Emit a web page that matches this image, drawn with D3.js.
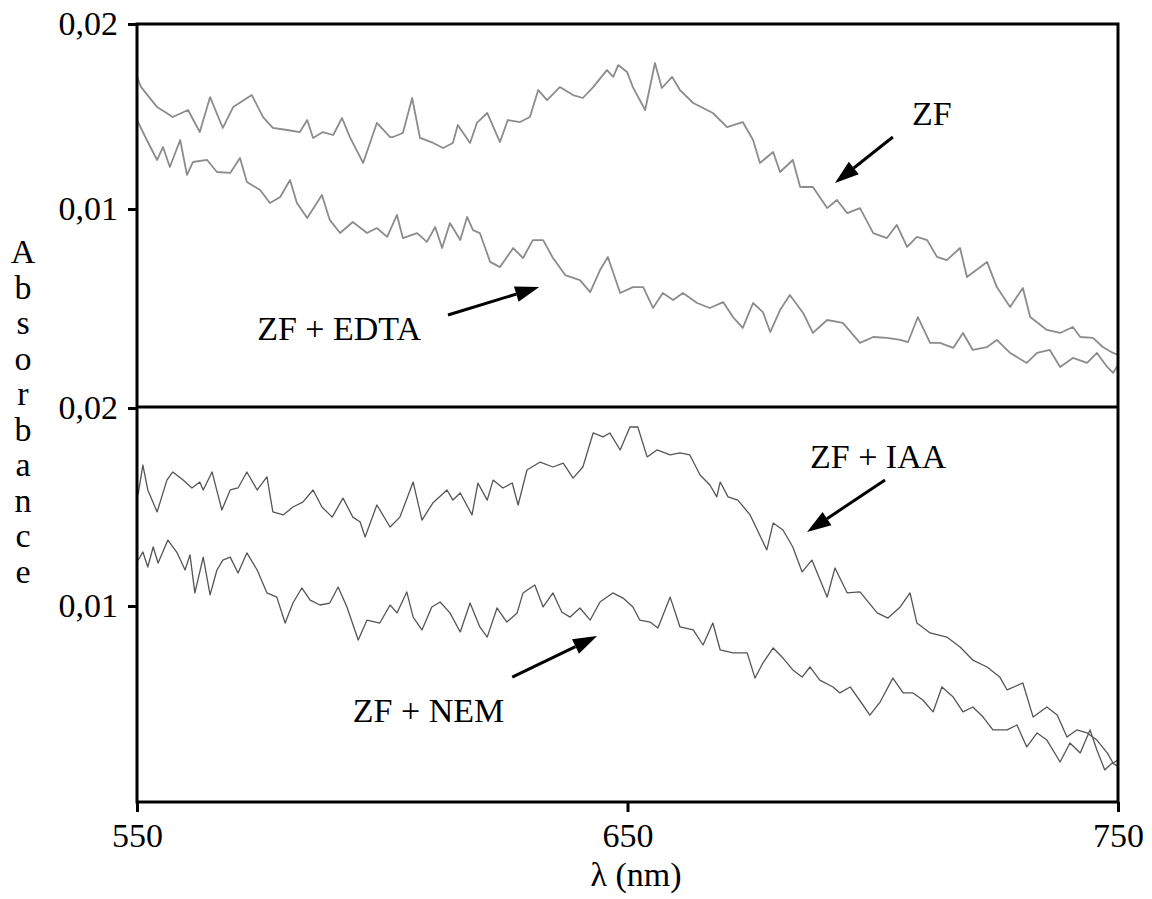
<!DOCTYPE html>
<html>
<head>
<meta charset="utf-8">
<script src="https://cdn.jsdelivr.net/npm/d3@7"></script>
<style>
  body { margin: 0; background: #fff; }
  svg text { font-family: "Liberation Serif", LiberationSerif, Tinos, "Times New Roman", Times, "Nimbus Roman", "DejaVu Serif", serif !important; }
</style>
</head>
<body>
<div id="chart"></div>
<script>
// wavelength ticks (nm) and absorbance ticks
const nmTicks = [550, 650, 750]
const absTicks = [0.01, 0.02]
const yTitle = 'Absorbance'
const xTitle = 'λ (nm)'

// top panel: [nm, absorbance]
const zf = [
  [550, 0.01714], [550.8, 0.01660], [554.1, 0.01551], [557.3, 0.01497], [560.4, 0.01535], [562.8, 0.01416],
  [564.9, 0.01605], [567.5, 0.01438], [569.6, 0.01551], [573.4, 0.01616], [575.7, 0.01497], [577.7, 0.01438],
  [580.6, 0.01427], [583.2, 0.01416], [584.7, 0.01481], [585.9, 0.01384], [587.9, 0.01416], [590.0, 0.01400],
  [591.8, 0.01492], [593.4, 0.01389], [596.1, 0.01249], [598.9, 0.01465], [601.6, 0.01389], [602.2, 0.01389],
  [604.2, 0.01411], [606.1, 0.01600], [607.7, 0.01384], [610.4, 0.01357], [612.4, 0.01330], [614.4, 0.01357],
  [615.4, 0.01454], [617.9, 0.01357], [619.3, 0.01465], [621.4, 0.01519], [624.0, 0.01362], [625.6, 0.01481],
  [628.1, 0.01470], [630.1, 0.01497], [631.8, 0.01643], [633.6, 0.01589], [636.2, 0.01659], [638.9, 0.01616],
  [640.9, 0.01600], [643.0, 0.01659], [645.8, 0.01751], [647.1, 0.01714], [648.1, 0.01778], [649.9, 0.01741],
  [651.1, 0.01659], [653.6, 0.01535], [655.6, 0.01789], [657.0, 0.01654], [659.1, 0.01714], [660.7, 0.01643],
  [663.4, 0.01573], [667.4, 0.01519], [670.3, 0.01443], [673.5, 0.01470], [675.6, 0.01373], [677.0, 0.01249],
  [679.7, 0.01308], [681.1, 0.01200], [683.7, 0.01265], [685.2, 0.01119], [687.8, 0.01119], [690.7, 0.01005],
  [692.7, 0.01049], [694.8, 0.00978], [697.4, 0.01005], [700.1, 0.00870], [702.9, 0.00843], [704.9, 0.00914],
  [707.0, 0.00795], [709.0, 0.00849], [711.1, 0.00832], [713.1, 0.00741], [715.1, 0.00724], [717.8, 0.00789],
  [719.2, 0.00632], [723.3, 0.00714], [725.3, 0.00578], [728.0, 0.00470], [730.6, 0.00573], [732.1, 0.00416],
  [735.5, 0.00346], [738.2, 0.00330], [740.8, 0.00362], [742.3, 0.00308], [744.9, 0.00303], [746.9, 0.00254],
  [749.0, 0.00222], [750, 0.00211]
]

const zfEdta = [
  [550, 0.01481], [552.0, 0.01373], [554.1, 0.01265], [555.3, 0.01335], [556.7, 0.01227], [558.8, 0.01373],
  [560.2, 0.01184], [561.4, 0.01254], [564.3, 0.01265], [566.3, 0.01200], [569.0, 0.01195], [571.0, 0.01276],
  [572.4, 0.01146], [575.1, 0.01103], [577.1, 0.01032], [579.2, 0.01065], [581.2, 0.01157], [582.6, 0.01032],
  [584.7, 0.00951], [587.7, 0.01076], [589.3, 0.00941], [591.4, 0.00870], [594.0, 0.00930], [596.9, 0.00870],
  [598.9, 0.00897], [601.0, 0.00849], [603.0, 0.00968], [604.2, 0.00843], [607.1, 0.00870], [609.1, 0.00822],
  [610.8, 0.00903], [612.2, 0.00789], [613.8, 0.00924], [615.9, 0.00832], [617.3, 0.00957], [618.5, 0.00886],
  [619.9, 0.00870], [622.0, 0.00714], [624.0, 0.00686], [626.7, 0.00789], [628.7, 0.00735], [630.7, 0.00832],
  [632.8, 0.00832], [634.8, 0.00735], [637.3, 0.00643], [640.3, 0.00616], [642.4, 0.00551], [644.4, 0.00670],
  [646.0, 0.00741], [648.5, 0.00546], [651.1, 0.00578], [653.2, 0.00578], [655.2, 0.00465], [657.2, 0.00546],
  [659.3, 0.00508], [661.3, 0.00546], [664.2, 0.00492], [666.8, 0.00465], [669.5, 0.00497], [671.5, 0.00416],
  [673.5, 0.00357], [675.6, 0.00492], [677.6, 0.00443], [679.1, 0.00335], [681.1, 0.00454], [683.1, 0.00535],
  [685.8, 0.00438], [687.8, 0.00330], [690.7, 0.00400], [693.9, 0.00384], [697.4, 0.00276], [700.1, 0.00308],
  [702.9, 0.00303], [705.6, 0.00292], [707.2, 0.00281], [709.2, 0.00416], [711.7, 0.00276], [713.7, 0.00276],
  [716.4, 0.00249], [718.4, 0.00330], [720.4, 0.00238], [723.3, 0.00254], [725.3, 0.00292], [728.0, 0.00222],
  [731.4, 0.00168], [733.5, 0.00222], [736.1, 0.00238], [738.2, 0.00146], [740.8, 0.00195], [743.7, 0.00168],
  [745.7, 0.00222], [747.8, 0.00146], [749.0, 0.00114], [750, 0.00157]
]

// bottom panel
const zfIaa = [
  [550.2, 0.01560], [551.2, 0.01712], [552.2, 0.01586], [554.1, 0.01475], [556.1, 0.01636], [557.3, 0.01677],
  [559.4, 0.01636], [561.2, 0.01596], [562.8, 0.01626], [563.5, 0.01586], [565.3, 0.01677], [567.3, 0.01485],
  [569.0, 0.01586], [570.6, 0.01596], [572.4, 0.01677], [574.5, 0.01586], [576.5, 0.01652], [577.7, 0.01475],
  [579.8, 0.01460], [581.8, 0.01500], [583.8, 0.01525], [585.9, 0.01586], [587.7, 0.01500], [589.8, 0.01449],
  [592.0, 0.01545], [594.0, 0.01449], [595.5, 0.01424], [596.5, 0.01348], [598.9, 0.01510], [601.6, 0.01399],
  [603.6, 0.01449], [606.3, 0.01626], [608.1, 0.01434], [610.3, 0.01520], [613.2, 0.01586], [614.4, 0.01535],
  [615.9, 0.01571], [618.3, 0.01460], [619.5, 0.01621], [621.4, 0.01535], [622.6, 0.01636], [624.6, 0.01596],
  [626.5, 0.01621], [627.7, 0.01510], [629.5, 0.01687], [632.2, 0.01727], [634.8, 0.01702], [636.9, 0.01722],
  [638.9, 0.01646], [640.9, 0.01702], [643.0, 0.01874], [645.0, 0.01854], [646.4, 0.01874], [648.5, 0.01788],
  [650.5, 0.01904], [652.1, 0.01904], [654.0, 0.01753], [656.0, 0.01788], [658.7, 0.01763], [660.7, 0.01773],
  [662.7, 0.01763], [664.8, 0.01662], [666.8, 0.01611], [668.2, 0.01551], [668.9, 0.01626], [670.5, 0.01551],
  [672.5, 0.01535], [675.0, 0.01460], [678.4, 0.01283], [679.7, 0.01419], [681.7, 0.01384], [683.7, 0.01298],
  [685.6, 0.01172], [687.6, 0.01232], [690.7, 0.01045], [692.3, 0.01192], [694.8, 0.01066], [697.4, 0.01071],
  [700.9, 0.00965], [703.1, 0.00939], [705.6, 0.00995], [707.6, 0.01066], [709.0, 0.00914], [711.7, 0.00864],
  [715.1, 0.00843], [717.8, 0.00793], [720.4, 0.00727], [723.3, 0.00692], [725.9, 0.00641], [727.4, 0.00576],
  [730.6, 0.00611], [732.7, 0.00439], [735.5, 0.00490], [737.6, 0.00449], [739.6, 0.00338], [741.6, 0.00374],
  [743.7, 0.00359], [745.7, 0.00323], [747.8, 0.00258], [749.0, 0.00207], [750, 0.00222]
]

const zfNem = [
  [550.2, 0.01230], [551.2, 0.01273], [552.2, 0.01197], [553.3, 0.01298], [554.3, 0.01217], [556.3, 0.01333],
  [558.2, 0.01268], [559.8, 0.01182], [560.8, 0.01258], [561.8, 0.01066], [563.5, 0.01247], [564.9, 0.01056],
  [566.3, 0.01182], [567.5, 0.01232], [569.0, 0.01247], [570.6, 0.01167], [572.4, 0.01268], [574.5, 0.01182],
  [576.5, 0.01066], [578.5, 0.01045], [580.2, 0.00914], [581.8, 0.01015], [583.6, 0.01091], [585.3, 0.01030],
  [587.3, 0.01005], [589.3, 0.01015], [591.0, 0.01096], [592.8, 0.00995], [595.1, 0.00828], [596.9, 0.00929],
  [599.5, 0.00914], [601.6, 0.01005], [603.0, 0.00965], [605.0, 0.01071], [606.3, 0.00944], [608.1, 0.00879],
  [610.1, 0.00995], [611.8, 0.01020], [613.8, 0.00965], [615.9, 0.00869], [617.9, 0.01015], [619.9, 0.00894],
  [621.4, 0.00843], [623.4, 0.00990], [625.4, 0.00919], [627.5, 0.00965], [628.7, 0.01066], [631.1, 0.01106],
  [632.8, 0.00995], [634.8, 0.01066], [636.6, 0.00970], [638.3, 0.00944], [640.3, 0.00990], [642.4, 0.00929],
  [644.4, 0.01020], [647.0, 0.01066], [649.1, 0.01040], [651.1, 0.00995], [652.5, 0.00929], [654.6, 0.00919],
  [656.2, 0.00889], [658.7, 0.01045], [660.7, 0.00894], [663.4, 0.00879], [665.4, 0.00803], [667.4, 0.00914],
  [668.9, 0.00778], [671.5, 0.00763], [674.4, 0.00763], [676.0, 0.00636], [677.6, 0.00712], [679.7, 0.00788],
  [681.7, 0.00737], [683.7, 0.00677], [685.6, 0.00641], [687.2, 0.00692], [689.2, 0.00626], [691.9, 0.00591],
  [693.3, 0.00561], [695.4, 0.00591], [698.0, 0.00500], [699.4, 0.00449], [701.5, 0.00515], [704.1, 0.00636],
  [706.2, 0.00561], [708.2, 0.00561], [710.2, 0.00525], [712.3, 0.00465], [714.1, 0.00591], [716.4, 0.00540],
  [718.4, 0.00465], [720.4, 0.00490], [722.5, 0.00439], [724.5, 0.00374], [727.4, 0.00374], [729.4, 0.00399],
  [731.4, 0.00288], [733.5, 0.00359], [735.5, 0.00323], [738.2, 0.00212], [740.2, 0.00308], [742.3, 0.00258],
  [744.3, 0.00374], [745.7, 0.00273], [747.3, 0.00172], [748.8, 0.00207], [750, 0.00190]
]

// annotations: label start + arrow tail -> head, in data units
const topNotes = [
  { text: 'ZF', at: [708.0, 0.01454], from: [704.1, 0.01389], to: [692.3, 0.01141] },
  { text: 'ZF + EDTA', at: [574.5, 0.00292], from: [613.4, 0.00427], to: [632.0, 0.00578] },
]
const bottomNotes = [
  { text: 'ZF + IAA', at: [687.2, 0.01697], from: [702.5, 0.01636], to: [686.6, 0.01374] },
  { text: 'ZF + NEM', at: [594.0, 0.00414], from: [626.5, 0.00641], to: [643.8, 0.00848] },
]

const serif = '"Liberation Serif", LiberationSerif, Tinos, "Times New Roman", Times, "Nimbus Roman", "DejaVu Serif", serif'

const left = 137, right = 1118
const topY0 = 24, midY = 407, botY1 = 802

const svg = d3.select('#chart').append('svg')
  .attr('width', 1152)
  .attr('height', 899)
  .attr('font-family', serif)

const x = d3.scaleLinear().domain([550, 750]).range([left, right])
const yTop = d3.scaleLinear().domain([0.02, 0.01]).range([topY0, 209])
const yBot = d3.scaleLinear().domain([0.02, 0.01]).range([midY + 1, 606])

const fmt = d => d3.format('.2f')(d).replace('.', ',')

const drawPanel = (y, series, color, width, notes) => {
  const line = d3.line().x(d => x(d[0])).y(d => y(d[1]))
  series.forEach(s => {
    svg.append('path')
      .datum(s)
      .attr('fill', 'none')
      .attr('stroke', color)
      .attr('stroke-width', width)
      .attr('stroke-linejoin', 'round')
      .attr('d', line)
  })

  const yAxis = svg.append('g')
    .attr('transform', `translate(${left}, 0)`)
    .call(d3.axisLeft(y).tickValues(absTicks).tickSize(9).tickPadding(10).tickFormat(fmt))
  yAxis.attr('font-family', serif)
  yAxis.select('.domain').remove()
  yAxis.selectAll('line').attr('stroke', '#000').attr('stroke-width', 3)
  yAxis.selectAll('text').attr('font-size', '34px').attr('fill', '#000')

  notes.forEach(n => {
    svg.append('text')
      .attr('x', x(n.at[0]))
      .attr('y', y(n.at[1]))
      .attr('font-size', '34px')
      .attr('fill', '#000')
      .text(n.text)

    const x1 = x(n.from[0]), y1 = y(n.from[1])
    const x2 = x(n.to[0]), y2 = y(n.to[1])
    const ang = Math.atan2(y2 - y1, x2 - x1)
    const headLen = 24, headW = 8
    const bx = x2 - headLen * Math.cos(ang), by = y2 - headLen * Math.sin(ang)
    svg.append('line')
      .attr('x1', x1).attr('y1', y1)
      .attr('x2', bx).attr('y2', by)
      .attr('stroke', '#000')
      .attr('stroke-width', 3)
    const px = -Math.sin(ang), py = Math.cos(ang)
    svg.append('polygon')
      .attr('points', [
        [x2, y2],
        [bx + px * headW, by + py * headW],
        [bx - px * headW, by - py * headW],
      ].map(p => p.join(',')).join(' '))
      .attr('fill', '#000')
  })
}

drawPanel(yTop, [zf, zfEdta], '#8c8c8c', 1.8, topNotes)
drawPanel(yBot, [zfIaa, zfNem], '#555', 1.3, bottomNotes)

// frames
svg.append('rect')
  .attr('x', left).attr('y', topY0)
  .attr('width', right - left).attr('height', botY1 - topY0)
  .attr('fill', 'none').attr('stroke', '#000').attr('stroke-width', 3)
svg.append('line')
  .attr('x1', left).attr('x2', right)
  .attr('y1', midY).attr('y2', midY)
  .attr('stroke', '#000').attr('stroke-width', 3)

// x axis
const xAxis = svg.append('g')
  .attr('transform', `translate(0, ${botY1})`)
  .call(d3.axisBottom(x).tickValues(nmTicks).tickSize(10).tickPadding(11).tickFormat(d3.format('d')))
xAxis.attr('font-family', serif)
xAxis.select('.domain').remove()
xAxis.selectAll('line').attr('stroke', '#000').attr('stroke-width', 3)
xAxis.selectAll('text').attr('font-size', '34px').attr('fill', '#000')

// x title
svg.append('text')
  .attr('x', 636)
  .attr('y', 886)
  .attr('text-anchor', 'middle')
  .attr('font-size', '34px')
  .text(xTitle)

// y title, one letter per row
const yt = svg.append('text')
  .attr('text-anchor', 'middle')
  .attr('font-size', '34px')
yTitle.split('').forEach((c, i) => {
  yt.append('tspan')
    .attr('x', 23)
    .attr('y', 263 + i * 35.5)
    .text(c)
})
</script>
</body>
</html>
